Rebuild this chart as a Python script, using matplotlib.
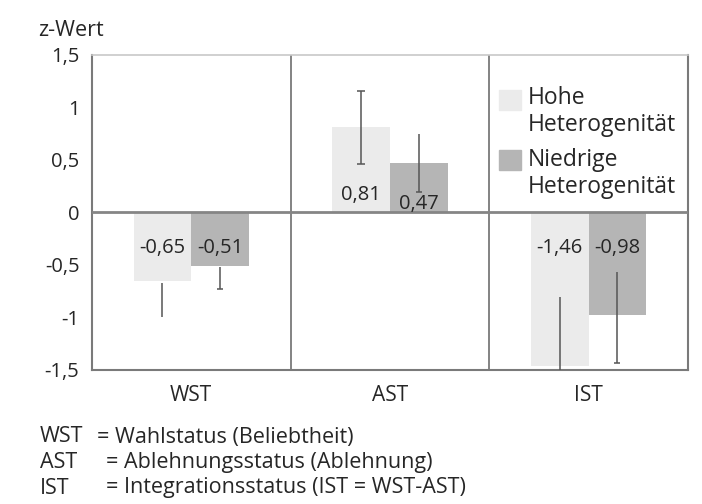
import matplotlib
matplotlib.use("Agg")
import matplotlib.pyplot as plt
from matplotlib.patches import Rectangle
import numpy as np

plt.rcParams["font.family"] = ["Open Sans", "DejaVu Sans"]

# ---- data ----
categories = ["WST", "AST", "IST"]
hohe = [-0.65, 0.81, -1.46]          # Hohe Heterogenität
niedrige = [-0.51, 0.47, -0.98]      # Niedrige Heterogenität
labels_hohe = ["-0,65", "0,81", "-1,46"]
labels_niedrige = ["-0,51", "0,47", "-0,98"]
# visible error-bar extents (low, high)
hohe_err_lo = [-1.00, 0.46, -2.11]
hohe_err_hi = [-0.67, 1.16, -0.81]
niedrige_err_lo = [-0.73, 0.19, -1.43]
niedrige_err_hi = [-0.52, 0.75, -0.57]
yticks = [-1.5, -1, -0.5, 0, 0.5, 1, 1.5]
ytick_labels = ["-1,5", "-1", "-0,5", "0", "0,5", "1", "1,5"]
footer = [("WST", "= Wahlstatus (Beliebtheit)"),
          ("AST", "= Ablehnungsstatus (Ablehnung)"),
          ("IST", "= Integrationsstatus (IST = WST-AST)")]

c_hohe = "#ebebeb"
c_nied = "#b5b5b5"
c_axis = "#7a7a7a"
c_text = "#262626"

fig = plt.figure(figsize=(7.02, 5.04), dpi=100)
ax = fig.add_axes([0.131, 0.266, 0.849, 0.625])

x = np.arange(len(categories))
w = 0.29
ax.bar(x - w / 2, hohe, w, color=c_hohe, zorder=2)
ax.bar(x + w / 2, niedrige, w, color=c_nied, zorder=2)

# error bars
ax.vlines(x - w / 2, hohe_err_lo, hohe_err_hi, color="#555555", lw=1.1, zorder=3)
ax.vlines(x + w / 2, niedrige_err_lo, niedrige_err_hi, color="#555555", lw=1.1, zorder=3)
ax.scatter(x[1:2] - w / 2, hohe_err_lo[1:2], marker="_", s=40, color="#555555", lw=1.1, zorder=3)
ax.scatter(x[1:2] - w / 2, hohe_err_hi[1:2], marker="_", s=40, color="#555555", lw=1.1, zorder=3)
ax.scatter(x + w / 2, niedrige_err_lo, marker="_", s=15, color="#555555", lw=1.1, zorder=3)

# value labels
for i in range(len(categories)):
    if hohe[i] < 0:
        ya, yb = -0.34, -0.34
    else:
        ya, yb = 0.17, 0.08
    ax.text(x[i] - w / 2, ya, labels_hohe[i], ha="center", va="center",
            fontsize=14.5, color=c_text, zorder=4)
    ax.text(x[i] + w / 2, yb, labels_niedrige[i], ha="center", va="center",
            fontsize=14.5, color=c_text, zorder=4)

ax.axhline(0, color="#858585", lw=2, zorder=3)
for sep in [0.5, 1.5]:
    ax.axvline(sep, color=c_axis, lw=1.3, zorder=1)

ax.set_xlim(-0.5, 2.5)
ax.set_ylim(-1.5, 1.5)
ax.set_yticks(yticks)
ax.set_yticklabels(ytick_labels)
ax.set_xticks(x)
ax.set_xticklabels(categories)
ax.tick_params(axis="both", length=0, labelsize=14.5, colors=c_text)
ax.tick_params(axis="x", labelsize=15, pad=11)
ax.tick_params(axis="y", pad=9)

for side in ["left", "bottom", "right"]:
    ax.spines[side].set_color(c_axis)
    ax.spines[side].set_linewidth(1.5)
ax.spines["top"].set_color("#c8c8c8")
ax.spines["top"].set_linewidth(1.2)

# legend in the upper IST panel
ax.add_patch(Rectangle((0.683, 0.825), 0.037, 0.063, transform=ax.transAxes,
                       color=c_hohe, clip_on=False, zorder=4))
ax.add_patch(Rectangle((0.683, 0.635), 0.037, 0.063, transform=ax.transAxes,
                       color=c_nied, clip_on=False, zorder=4))
for txt, yy in [("Hohe", 0.863), ("Heterogenität", 0.778),
                ("Niedrige", 0.667), ("Heterogenität", 0.581)]:
    ax.text(0.732, yy, txt, transform=ax.transAxes, va="center",
            fontsize=16.5, color=c_text)

fig.text(38 / 702, 1 - 30 / 504, "z-Wert", fontsize=15.5, color=c_text, va="center")

for k, (abbr, desc) in enumerate(footer):
    y = 1 - (437 + 25.5 * k) / 504
    fig.text(40 / 702, y, abbr, fontsize=15.5, color=c_text, va="center")
    fig.text(97 / 702 if k == 0 else 106 / 702, y, desc, fontsize=15.5, color=c_text, va="center")

fig.savefig("out.png", dpi=100)
